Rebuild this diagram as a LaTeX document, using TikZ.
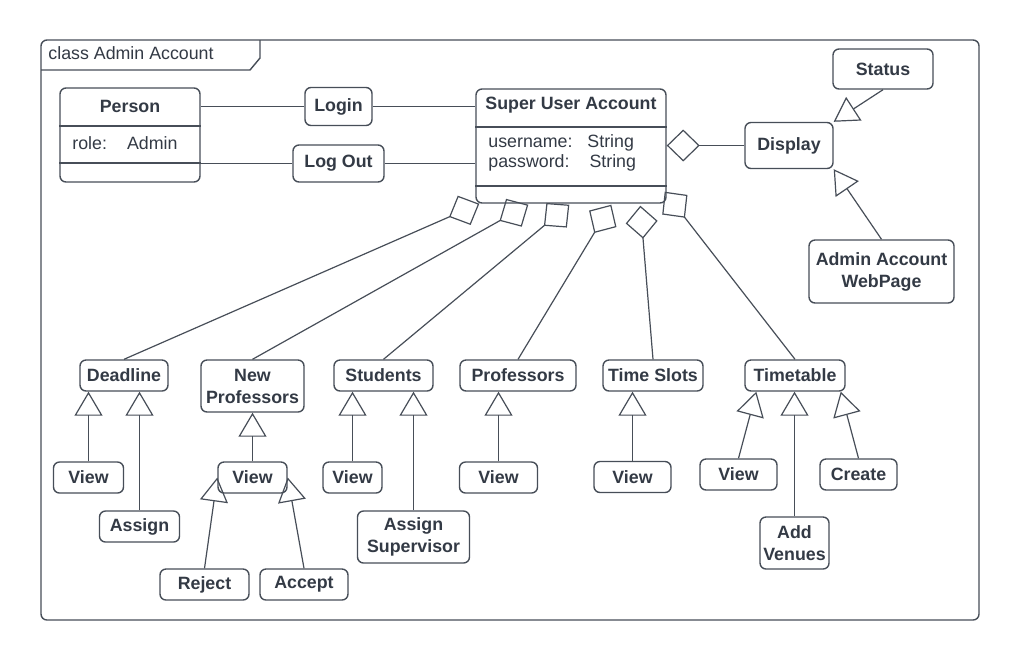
\documentclass[tikz,border=0pt]{standalone}
\usepackage{fontspec}
\setmainfont{Liberation Sans}
\usetikzlibrary{arrows.meta,calc}
\definecolor{ink}{HTML}{333A45}
\definecolor{edge}{HTML}{474E58}
\newcommand{\diafont}{\fontsize{8.9}{11}\selectfont}
\tikzset{
  box/.style   ={draw=edge, rounded corners=3pt, line width=0.7pt, fill=white, text=ink,
                 font=\diafont\bfseries, align=center, inner sep=0pt, minimum height=15.5pt},
  plain/.style ={text=ink, font=\diafont, inner sep=0pt},
  link/.style  ={draw=edge, line width=0.6pt},
  gen/.style   ={link, -{Triangle[open, length=12pt, width=14pt]}},
  aggr/.style  ={link, -{Diamond[open, length=16.5pt, width=16pt]}},
}
\begin{document}
\begin{tikzpicture}[x=0.5pt, y=-0.5pt]
\useasboundingbox (0,0) rectangle (1020,660);
\fill[white] (0,0) rectangle (1020,660);
% frame with title tab
\draw[edge, line width=0.7pt, rounded corners=3pt] (41,40) rectangle (979,620);
\draw[edge, line width=0.7pt] (41,70) -- (250,70) -- (260,58) -- (260,40);
\node[plain, anchor=west] (frametitle) at (48,53) {class Admin Account};
% Person class
\node[box, minimum width=70pt, minimum height=47pt] (person) at (130,135) {};
\coordinate (pcut1) at (0,126);
\coordinate (pcut2) at (0,163);
\draw[link, line width=0.7pt] (person.west |- pcut1) -- (person.east |- pcut1);
\draw[link, line width=0.7pt] (person.west |- pcut2) -- (person.east |- pcut2);
\node[plain, font=\diafont\bfseries] (persontitle) at (130,106) {Person};
\node[plain, anchor=west] (personrole) at (72,143) {role:\hspace{10pt}Admin};
% Super User Account class
\node[box, minimum width=95pt, minimum height=57pt] (sua) at (571,146) {};
\coordinate (scut1) at (0,127);
\coordinate (scut2) at (0,186);
\draw[link, line width=0.7pt] (sua.west |- scut1) -- (sua.east |- scut1);
\draw[link, line width=0.7pt] (sua.west |- scut2) -- (sua.east |- scut2);
\node[plain, font=\diafont\bfseries] (suatitle) at (571,105) {Super User Account};
\node[plain, anchor=west, align=left, font=\fontsize{8.9}{10}\selectfont] (suaattr) at (488,153)
  {username:\hspace{7.5pt}String\\password:\hspace{10pt}String};
% login / logout
\node[box, minimum width=33.5pt, minimum height=19pt] (login) at (338.5,106.5) {Login};
\node[box, minimum width=45.5pt, minimum height=18.5pt] (logout) at (338.5,163.5) {Log Out};
\draw[link] (login.west) -- (login.west -| person.east);
\draw[link] (login.east) -- (login.east -| sua.west);
\draw[link] (logout.west) -- (logout.west -| person.east);
\draw[link] (logout.east) -- (logout.east -| sua.west);
% display side
\node[box, minimum width=44pt, minimum height=23pt] (display) at (789,145.5) {Display};
\node[box, minimum width=50pt, minimum height=20pt] (status) at (883,69) {Status};
\node[box, minimum width=72.5pt, minimum height=31.5pt] (webpage) at (881.5,271.5) {Admin Account\\WebPage};
\draw[aggr] (display.west) -- (display.west -| sua.east);
\draw[gen] (status.south) -- (display.north east);
\draw[gen] (webpage.north) -- (display.south east);
% categories
\node[box, minimum width=44pt] (deadline) at (124,375.5) {Deadline};
\node[box, minimum width=51.5pt, minimum height=26pt] (newprof) at (252.5,386) {New\\Professors};
\node[box, minimum width=49.5pt] (students) at (383.5,375.5) {Students};
\node[box, minimum width=58pt] (professors) at (518,375.5) {Professors};
\node[box, minimum width=50pt] (timeslots) at (653,375.5) {Time Slots};
\node[box, minimum width=50pt] (timetable) at (795,375.5) {Timetable};
\draw[aggr] (deadline.north) -- ($(sua.south west)+(4,0)$);
\draw[aggr] (newprof.north) -- ($(sua.south west)+(53,1)$);
\draw[aggr] (students.north) -- ($(sua.south west)+(94,1)$);
\draw[aggr] (professors.north) -- ($(sua.south west)+(136,1)$);
\draw[aggr] (timeslots.north) -- ($(sua.south west)+(165,2)$);
\draw[aggr] (timetable.north) -- ($(sua.south east)+(-2,-12)$);
% actions
\node[box, minimum width=35pt] (dlview) at (88.5,477.5) {View};
\node[box, minimum width=40pt] (dlassign) at (139.5,526.5) {Assign};
\node[box, minimum width=34.5pt] (npview) at (252.5,477.5) {View};
\node[box, minimum width=44.5pt] (reject) at (204.5,584.5) {Reject};
\node[box, minimum width=44pt] (accept) at (304,584.5) {Accept};
\node[box, minimum width=29.5pt] (stview) at (352.5,477.5) {View};
\node[box, minimum width=56pt, minimum height=26pt] (assignsup) at (413.5,537) {Assign\\Supervisor};
\node[box, minimum width=39pt] (prview) at (498.5,477.5) {View};
\node[box, minimum width=38.5pt] (tsview) at (632.5,477) {View};
\node[box, minimum width=38.5pt] (ttview) at (738.5,474.5) {View};
\node[box, minimum width=34.5pt, minimum height=26pt] (addvenues) at (794.5,543) {Add\\Venues};
\node[box, minimum width=38.5pt] (create) at (858.5,474.5) {Create};
\foreach \c/\p in {dlview/deadline, dlassign/deadline, npview/newprof, stview/students,
                   assignsup/students, prview/professors, tsview/timeslots, addvenues/timetable}
  { \draw[gen] (\c.north) -- (\c.north |- \p.south); }
\draw[gen] (reject.north) -- (npview.west);
\draw[gen] (accept.north) -- (npview.east);
\draw[gen] (ttview.north) -- ($(timetable.south west)+(12,0)$);
\draw[gen] (create.north) -- ($(timetable.south east)+(-5,0)$);
\end{tikzpicture}
\end{document}
